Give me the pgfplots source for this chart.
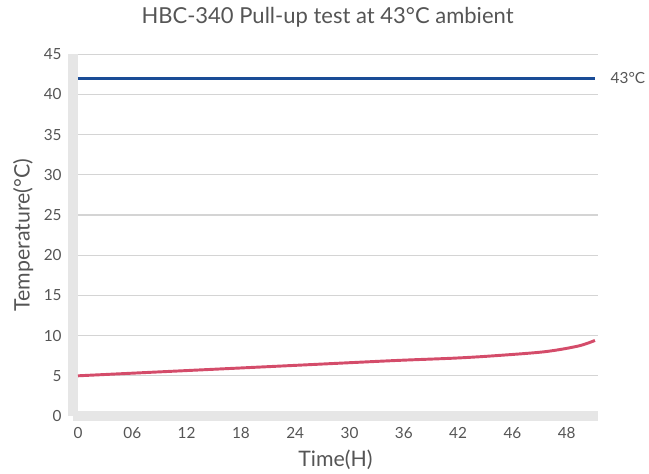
\documentclass[border=0pt]{standalone}
\usepackage{pgfplots}
\pgfplotsset{compat=1.18}
\usepackage{fontspec}
\setmainfont{Lato}
\definecolor{myblue}{RGB}{26,76,150}
\definecolor{myred}{RGB}{212,76,106}
\definecolor{bargray}{RGB}{230,230,230}
\definecolor{gridgray}{RGB}{212,212,212}
\definecolor{txt}{RGB}{85,85,85}
\begin{document}
\begin{tikzpicture}
\useasboundingbox (-58.5pt,-43.5pt) rectangle (428.25pt,312pt);
\begin{axis}[
  at={(0,0)}, anchor=origin,
  scale only axis,
  width=393.75pt, height=271.3pt,
  xmin=-0.092, xmax=9.576,
  ymin=0, ymax=45,
  axis x line*=bottom, axis y line*=left,
  axis line style={line width=7.5pt, bargray},
  major tick length=0pt,
  xtick={0,...,9},
  xticklabels={0,06,12,18,24,30,36,42,46,48},
  ytick={0,5,...,45},
  /pgf/number format/assume math mode=true,
  ymajorgrids,
  grid style={gridgray, line width=0.9pt},
  tick label style={font=\fontsize{11.5}{13}\selectfont, text=txt},
  yticklabel style={xshift=-5pt},
  xticklabel style={yshift=-5pt},
  title={HBC-340 Pull-up test at 43°C ambient},
  title style={at={(axis description cs:0.5,1)}, anchor=center, yshift=22pt, xshift=-6pt, font=\fontsize{16.5}{18}\selectfont, text=txt},
  xlabel={Time(H)},
  xlabel style={at={(axis description cs:0.5,-0.12)}, anchor=center, font=\fontsize{16}{18}\selectfont, text=txt},
  ylabel={Temperature(°C)},
  ylabel style={at={(axis description cs:-0.095,0.5)}, anchor=center, font=\fontsize{16}{18}\selectfont, text=txt},
  clip=false,
]
\addplot[myblue, line width=1.9pt] coordinates {(0,42) (9.52,42)};
\addplot[myred, line width=2.2pt, smooth] coordinates {
  (0,5.0) (2.15,5.7) (4.0,6.3) (5.84,6.9) (6.94,7.2) (7.68,7.5) (8.6,8.0) (9.21,8.7) (9.52,9.4)
};
\node[anchor=west, text=txt, font=\fontsize{11.5}{13}\selectfont] at (axis cs:9.576,42) [xshift=6pt] {43°C};
\end{axis}
\end{tikzpicture}
\end{document}
